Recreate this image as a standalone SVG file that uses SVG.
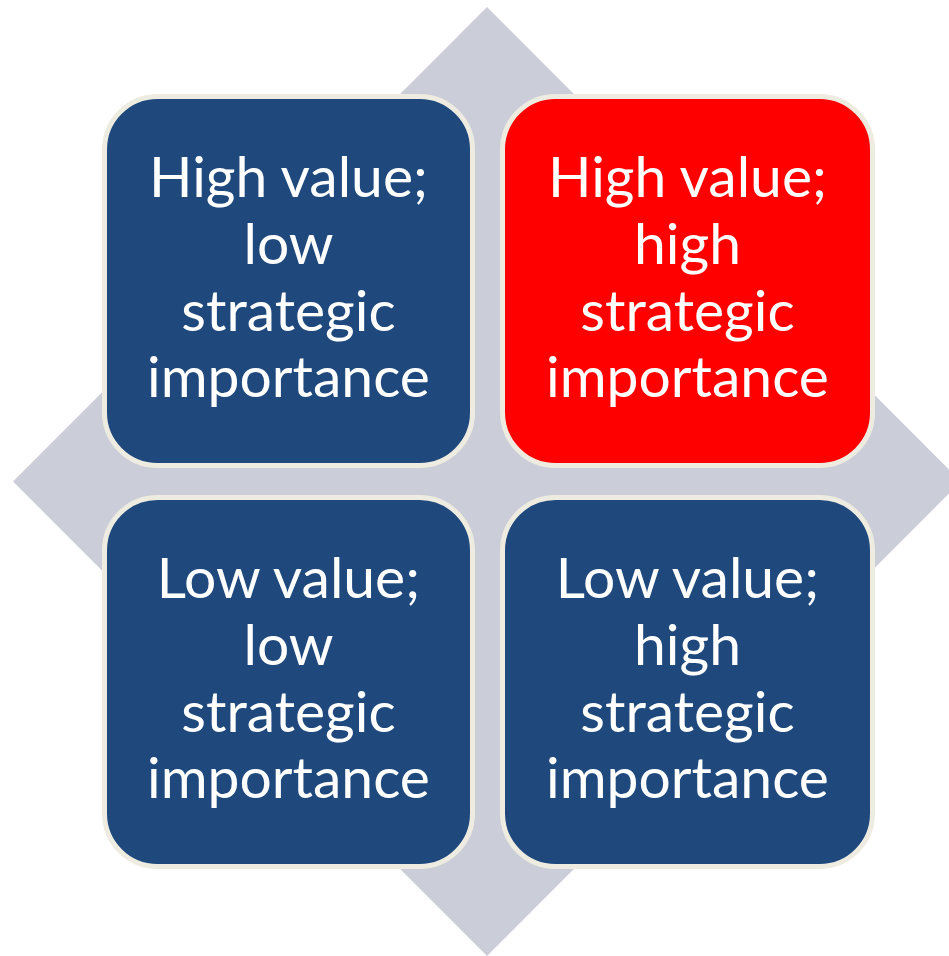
<svg xmlns="http://www.w3.org/2000/svg" width="949" height="956" viewBox="0 0 949 956">
<style>
.box{stroke:#EEECE1;stroke-width:5}
.blue{fill:#1F497D}
.red{fill:#FF0000}
.t{font-family:Lato,"Open Sans","Liberation Sans",sans-serif;font-size:57px;fill:#FFFFFF;text-anchor:middle}
</style>
<rect width="949" height="956" fill="#FFFFFF"/>
<g id="diamond">
<polygon points="487,7 961,481.5 487,956 13,481.5" fill="#CBCED9"/>
</g>
<g id="connectors"></g>
<g id="node-tl">
<rect class="box blue" x="104.5" y="96.5" width="368" height="369" rx="53"/>
<text class="t" x="288.5" y="197">High value;</text>
<text class="t" x="288.5" y="264">low</text>
<text class="t" x="288.5" y="331">strategic</text>
<text class="t" x="288.5" y="397">importance</text>
</g>
<g id="node-tr">
<rect class="box red" x="502.5" y="96.5" width="370" height="369" rx="53"/>
<text class="t" x="687.5" y="197">High value;</text>
<text class="t" x="687.5" y="264">high</text>
<text class="t" x="687.5" y="331">strategic</text>
<text class="t" x="687.5" y="397">importance</text>
</g>
<g id="node-bl">
<rect class="box blue" x="104.5" y="497.5" width="368" height="369" rx="53"/>
<text class="t" x="288.5" y="598">Low value;</text>
<text class="t" x="288.5" y="665">low</text>
<text class="t" x="288.5" y="732">strategic</text>
<text class="t" x="288.5" y="798">importance</text>
</g>
<g id="node-br">
<rect class="box blue" x="502.5" y="497.5" width="370" height="369" rx="53"/>
<text class="t" x="687.5" y="598">Low value;</text>
<text class="t" x="687.5" y="665">high</text>
<text class="t" x="687.5" y="732">strategic</text>
<text class="t" x="687.5" y="798">importance</text>
</g>
</svg>
